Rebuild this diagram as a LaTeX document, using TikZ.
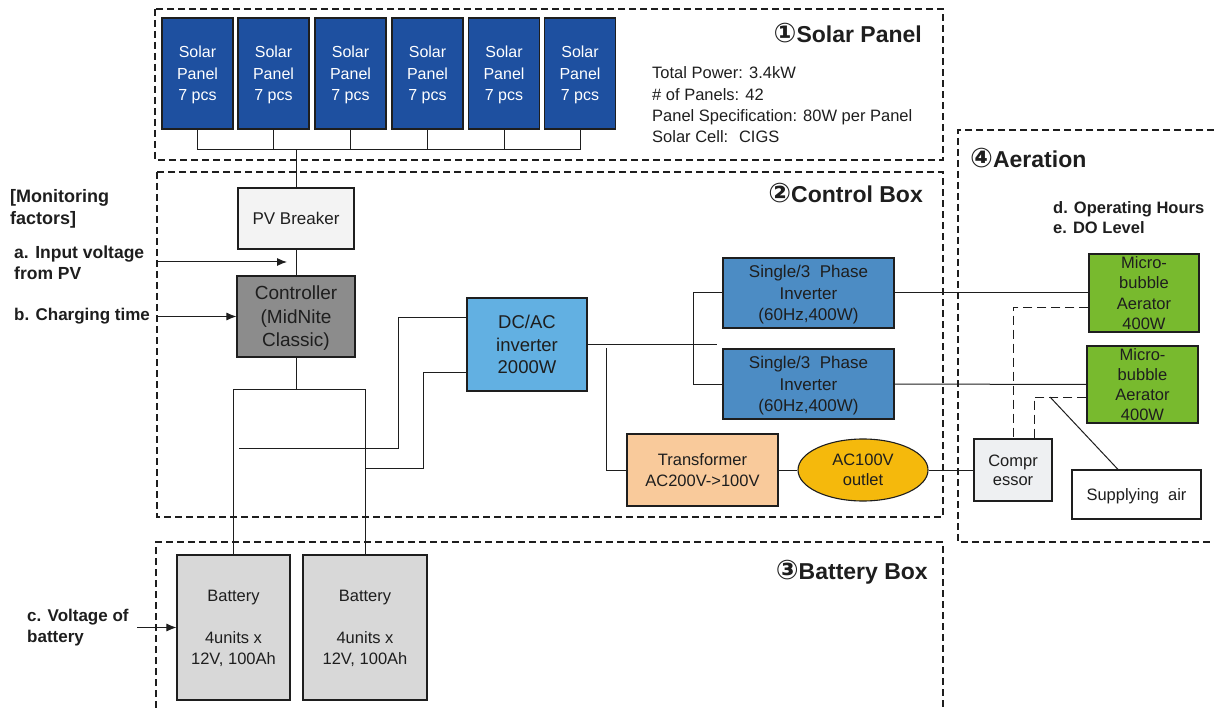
\documentclass[tikz,border=0pt]{standalone}
\usepackage{fontspec}
\setmainfont{Liberation Sans}
\newfontfamily\circfont{DejaVu Sans}
\usetikzlibrary{arrows.meta,shapes.geometric}

\definecolor{panelblue}{RGB}{30,80,160}
\definecolor{invblue}{RGB}{76,140,196}
\definecolor{dcblue}{RGB}{98,176,226}
\definecolor{ctrlgray}{RGB}{140,140,140}
\definecolor{breakerfill}{RGB}{243,243,243}
\definecolor{trafofill}{RGB}{249,202,155}
\definecolor{outletfill}{RGB}{245,185,12}
\definecolor{aerfill}{RGB}{120,186,46}
\definecolor{batfill}{RGB}{216,216,216}
\definecolor{compfill}{RGB}{238,240,242}
\definecolor{ink}{RGB}{30,30,30}

\newcommand\fsz[2]{\fontsize{#1}{#2}\selectfont}
\newcommand\circnum[1]{{\circfont\fontsize{27}{27}\selectfont #1}}

\tikzset{
  box/.style={draw=ink, line width=1.1pt, inner sep=0pt, align=center, text=ink,
              text depth=0pt},
  panel/.style={box, fill=panelblue, minimum width=71pt, minimum height=111pt,
                text=white, font=\fsz{16}{21.5}},
  area/.style={draw=ink, line width=1.6pt, dash pattern=on 7pt off 4pt},
  wire/.style={draw=ink, line width=1pt},
  probe/.style={wire, -{Latex[length=10pt,width=8pt]}},
  airline/.style={wire, dash pattern=on 9pt off 5pt},
  lbl/.style={inner sep=0pt, anchor=west, align=left, text=ink},
  title/.style={inner sep=0pt, text=ink, font=\bfseries\fsz{23}{26}},
}

\begin{document}
\begin{tikzpicture}[x=1pt, y=-1pt]
\useasboundingbox (0,0) rectangle (1214,708);

% ---- dashed enclosures
\draw[area] (155,9) rectangle (943,160);
\draw[area] (157,172) rectangle (943,517);
\draw[area] (1214,130) -- (958,130) -- (958,542) -- (1214,542);
\draw[area] (156,708) -- (156,542) -- (943,542) -- (943,708);

% ---- section titles
\node[title, anchor=east] (t1) at (922,33) {\circnum{①}Solar Panel};
\node[title, anchor=east] (t2) at (923,193) {\circnum{②}Control Box};
\node[title, anchor=east] (t3) at (928,572) {\circnum{③}Battery Box};
\node[title, anchor=west] (t4) at (970,158) {\circnum{④}Aeration};

% ---- solar array
\foreach \i/\x in {1/197.5,2/273.5,3/350.5,4/427.5,5/504,6/580}
  \node[panel] (p\i) at (\x,73.5) {Solar\\Panel\\7 pcs};

\node[lbl, font=\fsz{16.5}{21.3}] (spec) at (652,105)
  {Total Power: 3.4kW\\\# of Panels: 42\\Panel Specification: 80W per Panel\\Solar Cell:~ CIGS};

\coordinate (bus) at (296,150);
\foreach \i in {1,...,6}
  \draw[wire] (p\i.south) -- (p\i.south |- bus);
\draw[wire] (p1.south |- bus) -- (p6.south |- bus);

% ---- control box
\node[box, fill=breakerfill, minimum width=116pt, minimum height=61pt, font=\fsz{17}{20}]
  (brk) at (296,218.5) {PV Breaker};
\node[box, fill=ctrlgray, minimum width=118pt, minimum height=81pt, font=\fsz{19}{23.5}]
  (ctl) at (296,316.5) {Controller\\(MidNite\\Classic)};
\node[box, fill=dcblue, minimum width=120pt, minimum height=93pt, font=\fsz{18.5}{22.5}]
  (dc) at (527,344.5) {DC/AC\\inverter\\2000W};
\node[box, fill=invblue, minimum width=171pt, minimum height=70pt, font=\fsz{17}{21.5}]
  (inv1) at (808.5,293) {Single/3~ Phase\\Inverter\\(60Hz,400W)};
\node[box, fill=invblue, minimum width=171pt, minimum height=70pt, font=\fsz{17}{21.5}]
  (inv2) at (808.5,384) {Single/3~ Phase\\Inverter\\(60Hz,400W)};
\node[box, fill=trafofill, minimum width=151pt, minimum height=72pt, font=\fsz{16.5}{21}]
  (tr) at (702.5,470) {Transformer\\AC200V->100V};
\node[ellipse, draw=ink, line width=1.1pt, fill=outletfill, inner sep=0pt, align=center,
  text=ink, text depth=0pt, minimum width=130pt, minimum height=62pt, font=\fsz{16.5}{20}]
  (out) at (863,470) {AC100V\\outlet};

\draw[wire] (bus) -- (brk.north);
\draw[wire] (brk.south) -- (ctl.north);

% ---- battery box
\node[box, fill=batfill, minimum width=113pt, minimum height=145pt, font=\fsz{16.5}{21}]
  (bat1) at (233.5,627.5) {Battery\\ \\4units x\\12V, 100Ah};
\node[box, fill=batfill, minimum width=124pt, minimum height=145pt, font=\fsz{16.5}{21}]
  (bat2) at (365,627.5) {Battery\\ \\4units x\\12V, 100Ah};

\coordinate (cj) at (296,389);
\draw[wire] (ctl.south) -- (cj);
\draw[wire] (bat1.north) |- (bat2.north |- cj) -- (bat2.north);

\coordinate (w1) at (239,448);
\draw[wire] (w1) -- (398,448) |- (dc.west |- 0,317);
\draw[wire] (bat2.north |- 0,468) -- (423,468) |- (dc.west |- 0,372);

\draw[wire] (dc.east) -- (717,344.5);
\coordinate (split) at (693,0);
\draw[wire] (inv1.west) -- (inv1.west -| split) -- (inv2.west -| split) -- (inv2.west);
\draw[wire] (606,348) |- (tr.west);
\draw[wire] (tr.east) -- (out.west);

% ---- aeration
\node[lbl, font=\bfseries\fsz{16.5}{20}] (dlbl) at (1053,218) {d. Operating Hours\\e. DO Level};
\node[box, fill=aerfill, minimum width=110pt, minimum height=78pt, font=\fsz{16.5}{20.3}]
  (aer1) at (1144,293) {Micro-\\bubble\\Aerator\\400W};
\node[box, fill=aerfill, minimum width=111pt, minimum height=77pt, font=\fsz{16.5}{20.3}]
  (aer2) at (1142.5,384.5) {Micro-\\bubble\\Aerator\\400W};
\node[box, fill=compfill, minimum width=78pt, minimum height=62pt, font=\fsz{16.5}{19.5}]
  (comp) at (1013,470) {Compr\\essor};
\node[box, fill=white, minimum width=129pt, minimum height=49pt, font=\fsz{16.5}{20}]
  (sup) at (1136.5,494.5) {Supplying~ air};

\draw[wire] (out.east) -- (comp.west);
\draw[wire] (inv1.east) -- (aer1.west);
\draw[wire] (inv2.east) -- (aer2.west);
\draw[airline] (aer1.west |- 0,307) -| (comp.north);
\draw[airline] (aer2.west |- 0,397) -| ([xshift=21pt]comp.north);
\coordinate (airtap) at (1050,397);
\draw[wire] (airtap) -- ([xshift=-18.5pt]sup.north);

% ---- monitoring factors
\node[lbl, font=\bfseries\fsz{18}{22}] (mon) at (10,209) {[Monitoring\\factors]};
\node[lbl, font=\bfseries\fsz{17.5}{21}] (la) at (14,263) {a. Input voltage\\from PV};
\node[lbl, font=\bfseries\fsz{17}{21}] (lb) at (14,316.5) {b. Charging time};
\node[lbl, font=\bfseries\fsz{17}{21}] (lc) at (27,627.5) {c. Voltage of\\battery};

\coordinate (aS) at (157,262);
\coordinate (aE) at (287,262);
\draw[probe] (aS) -- (aE);
\coordinate (bS) at (157,316.5);
\draw[probe] (bS) -- (ctl.west);
\coordinate (cS) at (137,627.5);
\draw[probe] (cS) -- (bat1.west);

\end{tikzpicture}
\end{document}
